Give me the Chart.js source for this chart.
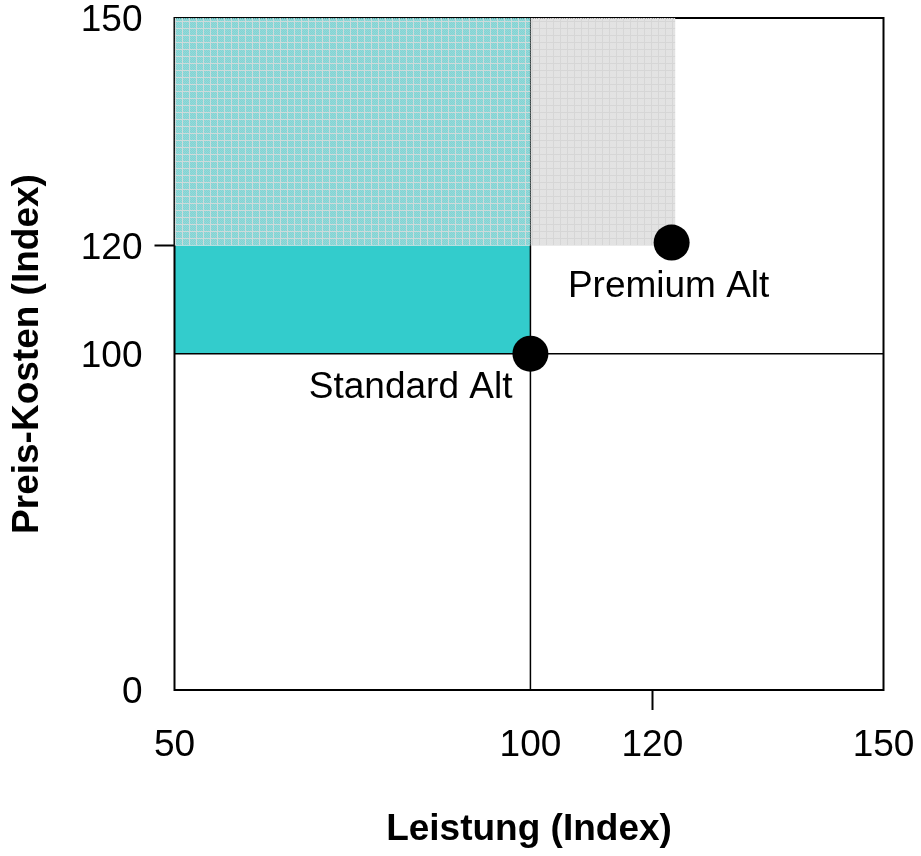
<!DOCTYPE html>
<html>
<head>
<meta charset="utf-8">
<script src="https://cdn.jsdelivr.net/npm/chart.js@4/dist/chart.umd.min.js"></script>
<style>
  html, body { margin: 0; padding: 0; background: #fff; }
  #wrap { width: 921px; height: 856px; }
</style>
</head>
<body>
<div id="wrap"><canvas id="c"></canvas></div>
<script>
// Axis tick values (both axes use a segmented, non-uniform index scale)
const xTicks = [50, 100, 120, 150];
const yTicks = [0, 100, 120, 150];

// Positioned alternatives: Leistung (x) vs. Preis-Kosten (y)
const altNames = ['Standard Alt', 'Premium Alt'];
const altLeistung = [100, 122.5];
const altPreis = [100, 120.4];

// Zones
const standardZoneX = [50, 100];
const standardZoneY = [100, 120];   // solid band
const upperZoneX = [50, 100];
const premiumZoneX = [100, 123];
const upperZoneY = [120, 150];      // stippled bands

// Reference lines at the standard index
const refLeistung = 100;
const refPreis = 100;

const FONT = '"Liberation Sans", Arial, Helvetica, sans-serif';
const FS = 37;

// Linear scale whose value range is split into segments of different lengths
class SegmentedScale extends Chart.LinearScale {
  static id = 'segmented';
  static defaults = Chart.LinearScale.defaults;
  _toFraction(v) {
    const vals = this.options.breakValues, fr = this.options.breakFractions;
    let i = 0;
    while (i < vals.length - 2 && v > vals[i + 1]) i++;
    return fr[i] + (v - vals[i]) / (vals[i + 1] - vals[i]) * (fr[i + 1] - fr[i]);
  }
  _fromFraction(f) {
    const vals = this.options.breakValues, fr = this.options.breakFractions;
    let i = 0;
    while (i < fr.length - 2 && f > fr[i + 1]) i++;
    return vals[i] + (f - fr[i]) / (fr[i + 1] - fr[i]) * (vals[i + 1] - vals[i]);
  }
  buildTicks() {
    return this.options.tickValues.map(v => ({ value: v }));
  }
  getPixelForValue(value) {
    return this.getPixelForDecimal(this._toFraction(value));
  }
  getValueForPixel(pixel) {
    return this._fromFraction(this.getDecimalForPixel(pixel));
  }
}
Chart.register(SegmentedScale);

// Stippled fill pattern
function stipple(ink, soft, line) {
  const n = 7;
  const cv = document.createElement('canvas');
  cv.width = n; cv.height = n;
  const g = cv.getContext('2d');
  for (let i = 0; i < n; i++) {
    for (let j = 0; j < n; j++) {
      g.fillStyle = (i === 0 || j === 0) ? line : ((i + j) % 2 === 0 ? ink : soft);
      g.fillRect(i, j, 1, 1);
    }
  }
  return g.createPattern(cv, 'repeat');
}
const tealStipple = stipple('#84d2d2', 'rgba(110,205,205,0.75)', '#cfdada');
const greyStipple = stipple('#e2e2e2', 'rgba(215,215,215,0.7)', '#d6d6d6');

const band = (xs, y) => xs.map(x => ({ x, y }));
const none = 'rgba(0,0,0,0)';

const datasets = [
  { // 0: solid band
    type: 'line', data: band(standardZoneX, standardZoneY[1]),
    fill: { value: standardZoneY[0] }, backgroundColor: '#33CCCC',
    borderColor: none, borderWidth: 0, pointRadius: 0, order: 6
  },
  { // 1: vertical reference line
    type: 'line', data: [{ x: refLeistung, y: yTicks[0] }, { x: refLeistung, y: yTicks[3] }],
    fill: false, borderColor: '#000', borderWidth: 1.5, pointRadius: 0, order: 5
  },
  { // 2: horizontal reference line
    type: 'line', data: [{ x: xTicks[0], y: refPreis }, { x: xTicks[3], y: refPreis }],
    fill: false, borderColor: '#000', borderWidth: 1.5, pointRadius: 0, order: 5
  },
  { // 3: upper stippled band
    type: 'line', data: band(upperZoneX, upperZoneY[1]),
    fill: { value: upperZoneY[0] }, backgroundColor: tealStipple,
    borderColor: none, borderWidth: 0, pointRadius: 0, order: 4
  },
  { // 4: premium stippled band
    type: 'line', data: band(premiumZoneX, upperZoneY[1]),
    fill: { value: upperZoneY[0] }, backgroundColor: greyStipple,
    borderColor: none, borderWidth: 0, pointRadius: 0, order: 4
  },
  { // 5: alternatives
    type: 'scatter', label: 'Alternativen',
    data: altLeistung.map((x, i) => ({ x, y: altPreis[i] })),
    pointRadius: 18, pointHoverRadius: 18, backgroundColor: '#000', borderWidth: 0, order: 1
  }
];

// Frame around the plot area, drawn right after the solid band
const framePlugin = {
  id: 'frame',
  afterDatasetDraw(chart, args) {
    if (args.index !== 0) return;
    const { ctx, chartArea: a } = chart;
    ctx.save();
    ctx.strokeStyle = '#000';
    ctx.lineWidth = 2;
    ctx.strokeRect(a.left, a.top, a.right - a.left, a.bottom - a.top);
    ctx.restore();
  }
};

// Names of the alternatives next to their points
const labelPlacement = [
  { align: 'right', dx: -18, dy: 44 },
  { align: 'center', dx: -3, dy: 54 }
];
const namePlugin = {
  id: 'altNames',
  afterDatasetsDraw(chart) {
    const meta = chart.getDatasetMeta(5);
    const ctx = chart.ctx;
    ctx.save();
    ctx.font = FS + 'px ' + FONT;
    ctx.fillStyle = '#000';
    ctx.textBaseline = 'alphabetic';
    meta.data.forEach((pt, i) => {
      const p = labelPlacement[i];
      ctx.textAlign = p.align;
      ctx.fillText(altNames[i], pt.x + p.dx, pt.y + p.dy);
    });
    ctx.restore();
  }
};

const tickMark = ctx => (ctx.tick && ctx.tick.value === 120) ? '#000' : none;

new Chart(document.getElementById('c'), {
  type: 'line',
  data: { datasets },
  plugins: [framePlugin, namePlugin],
  options: {
    responsive: true,
    maintainAspectRatio: false,
    animation: false,
    events: [],
    layout: { padding: { top: 16, right: 37.5, left: 0, bottom: 0 } },
    plugins: { legend: { display: false }, tooltip: { enabled: false } },
    scales: {
      x: {
        type: 'segmented', min: 50, max: 150,
        breakValues: xTicks, breakFractions: [0, 0.502, 0.674, 1], tickValues: xTicks,
        border: { display: false },
        grid: { display: true, drawOnChartArea: false, drawTicks: true, tickLength: 20,
                tickWidth: 2, tickColor: tickMark, color: none },
        ticks: { font: { family: FONT, size: FS }, color: '#000', padding: 14,
                 autoSkip: false, maxRotation: 0, callback: v => String(v) },
        title: { display: true, text: 'Leistung (Index)', color: '#000',
                 font: { family: FONT, size: FS, weight: 'bold' }, padding: { top: 0, bottom: 4 } },
        afterFit: s => { s.height = 166; s.paddingLeft = 0; s.paddingRight = 0; }
      },
      y: {
        type: 'segmented', min: 0, max: 150,
        breakValues: yTicks, breakFractions: [0, 0.5004, 0.6613, 1], tickValues: yTicks,
        border: { display: false },
        grid: { display: true, drawOnChartArea: false, drawTicks: true, tickLength: 20,
                tickWidth: 2, tickColor: tickMark, color: none },
        ticks: { font: { family: FONT, size: FS }, color: '#000', padding: 12, labelOffset: 3,
                 autoSkip: false, callback: v => String(v) },
        title: { display: true, text: 'Preis-Kosten (Index)', color: '#000',
                 font: { family: FONT, size: FS, weight: 'bold' }, padding: { top: 6, bottom: 0 } },
        afterFit: s => { s.width = 174.5; s.paddingTop = 0; s.paddingBottom = 0; }
      }
    }
  }
});
</script>
</body>
</html>
